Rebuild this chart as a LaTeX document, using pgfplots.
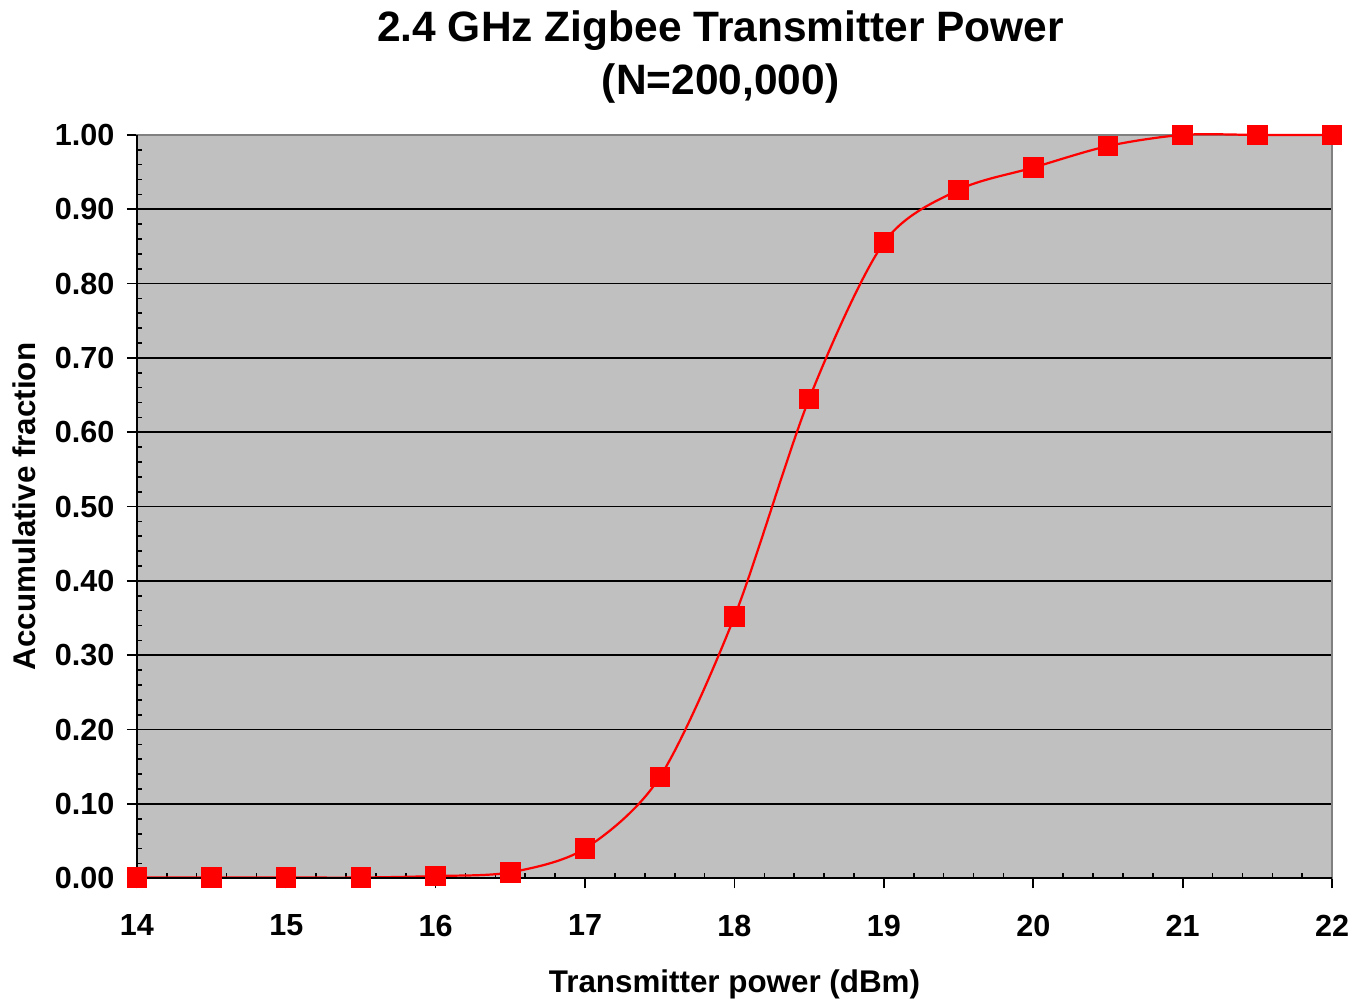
\documentclass[border=0pt]{standalone}
\usepackage{pgfplots}
\pgfplotsset{compat=1.18}
\usepackage{pgfplotstable}
\usepackage{fontspec}
\setmainfont{Liberation Sans}
\definecolor{bggray}{RGB}{192,192,192}
\definecolor{framegray}{RGB}{128,128,128}
\pgfplotstableread{
x y
14 0.001
14.5 0.001
15 0.001
15.5 0.001
16 0.003
16.5 0.008
17 0.040
17.5 0.136
18 0.352
18.5 0.645
19 0.855
19.5 0.926
20 0.956
20.5 0.985
21 1.000
21.5 1.000
22 1.000
}\datatable
\begin{document}
\begin{tikzpicture}[x=1pt,y=1pt]
\useasboundingbox (-49.3,-44.3) rectangle (441.0,316.4);
\begin{axis}[
  name=ax,
  at={(0,0)}, anchor=south west,
  scale only axis,
  width=430.6pt, height=267.8pt,
  xmin=14, xmax=22, ymin=0, ymax=1,
  xtick={14,15,...,22},
  ytick={0,0.1,...,1.0},
  xtick pos=lower, ytick pos=left,
  minor x tick num=4,
  minor y tick num=4,
  tick align=outside,
  major tick length=3.6pt,
  minor tick length=2pt,
  minor x tick style={yshift=2pt},
  minor y tick style={xshift=2pt},
  tick style={black, line width=0.6pt},
  axis background/.style={fill=bggray},
  axis line style={framegray, line width=0.6pt},
  ymajorgrids,
  major grid style={black, line width=0.6pt},
  clip=false,
  /pgf/number format/assume math mode=true,
  tick label style={font=\fontsize{11}{13}\selectfont\bfseries},
  yticklabel style={/pgf/number format/fixed, /pgf/number format/fixed zerofill, /pgf/number format/precision=2, xshift=-1pt},
  xticklabel style={yshift=-6pt},
  xlabel={Transmitter power (dBm)},
  ylabel={Accumulative fraction},
  label style={font=\fontsize{11.3}{13}\selectfont\bfseries},
  xlabel style={yshift=-5pt},
  ylabel style={yshift=0pt},
  title={2.4 GHz Zigbee Transmitter Power\\(N=200,000)},
  title style={font=\fontsize{15.3}{19}\selectfont\bfseries, align=center, yshift=2pt, xshift=-5pt},
]
\addplot[red, line width=0.8pt, smooth, tension=0.5, mark=square*, mark size=3.5pt, mark options={fill=red, draw=red, line width=0pt}] table[x=x,y=y] {\datatable};
\draw[black, line width=0.7pt] (rel axis cs:0,0) -- (rel axis cs:0,1);
\draw[black, line width=0.7pt] (rel axis cs:0,0) -- (rel axis cs:1,0);
\end{axis}
\end{tikzpicture}
\end{document}
